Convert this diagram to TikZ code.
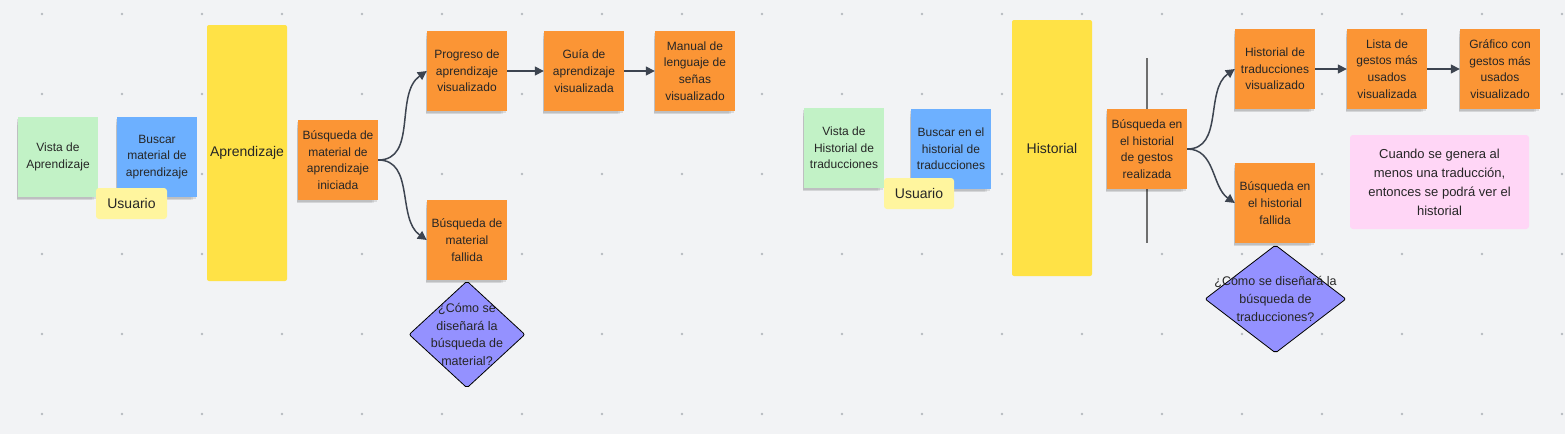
\documentclass[tikz,border=0pt]{standalone}
\usepackage{fontspec}
\setmainfont{Liberation Sans}
\usetikzlibrary{arrows.meta,shapes.geometric,shadows}
\definecolor{bg}{HTML}{F2F3F5}
\definecolor{dotc}{HTML}{B6BAC0}
\definecolor{cgreen}{HTML}{C2F2C6}
\definecolor{cblue}{HTML}{6DB0FF}
\definecolor{cyellow}{HTML}{FFE246}
\definecolor{cuser}{HTML}{FFF59E}
\definecolor{corange}{HTML}{FB9535}
\definecolor{cpink}{HTML}{FFD6F6}
\definecolor{cdiam}{HTML}{9491FF}
\definecolor{conn}{HTML}{3D4450}
\definecolor{vline}{HTML}{6E6E6E}
\definecolor{txt}{HTML}{262626}
\begin{document}
\begin{tikzpicture}[x=1pt,y=-1pt,
  notesh/.style={drop shadow={shadow xshift=-1.5pt,shadow yshift=-2pt,opacity=0.10,fill=black},
                 drop shadow={shadow xshift=-2.5pt,shadow yshift=-4pt,opacity=0.07,fill=black,shadow scale=0.97},
                 drop shadow={shadow xshift=-3.5pt,shadow yshift=-6pt,opacity=0.05,fill=black,shadow scale=0.94}},
  note/.style={notesh,fill=#1,minimum width=80pt,minimum height=80pt,inner sep=0pt,align=center,
               text=txt,font=\fontsize{12}{16.7}\selectfont},
  bignote/.style={fill=cyellow,rounded corners=2pt,minimum width=80pt,minimum height=256pt,inner sep=0pt,
               text=txt,font=\fontsize{14}{17}\selectfont},
  usernote/.style={fill=cuser,rounded corners=3pt,minimum height=31pt,inner sep=0pt,
               text=txt,font=\fontsize{14}{17}\selectfont},
  diam/.style={diamond,draw=black,line width=0.8pt,fill=cdiam,rounded corners=2pt,inner sep=0pt},
  dtext/.style={align=center,text=txt,font=\fontsize{12.5}{17.6}\selectfont},
  conn/.style={draw=conn,line width=1.5pt,-{Triangle[length=9pt,width=9pt]}}
]
\fill[bg] (0,0) rectangle (1565,434);
\useasboundingbox (0,0) rectangle (1565,434);
\foreach \i in {0,...,19}{\foreach \j in {0,...,5}{\fill[dotc] (42+80*\i,14+80*\j) circle (1.3pt);}}

% ---------- left part ----------
\node[note=cgreen] (vista) at (58,157) {Vista de\\Aprendizaje};
\node[note=cblue] (buscar) at (157,157) {Buscar\\material de\\aprendizaje};
\node[usernote,minimum width=71pt] (user) at (131.5,203.5) {Usuario};
\node[bignote] (apr) at (247,153) {Aprendizaje};
\node[note=corange] (busq) at (338,160) {Búsqueda de\\material de\\aprendizaje\\iniciada};
\node[note=corange] (prog) at (467,71) {Progreso de\\aprendizaje\\visualizado};
\node[note=corange] (guia) at (584,71) {Guía de\\aprendizaje\\visualizada};
\node[note=corange] (manual) at (695,71) {Manual de\\lenguaje de\\señas\\visualizado};
\node[note=corange] (fall) at (467,240) {Búsqueda de\\material\\fallida};
\node[diam,minimum width=116pt,minimum height=107pt] (d1) at (467,334.5) {};
\node[dtext] (d1t) at (d1.center) {¿Cómo se\\diseñará la\\búsqueda de\\material?};

\draw[conn] (busq.east) to[out=0,in=215] (prog.west);
\draw[conn] (busq.east) to[out=0,in=145] (fall.west);
\draw[conn] (prog.east) -- (guia.west);
\draw[conn] (guia.east) -- (manual.west);

% ---------- right part ----------
\node[note=cgreen] (vista2) at (844,148) {Vista de\\Historial de\\traducciones};
\node[note=cblue] (buscar2) at (951,149) {Buscar en el\\historial de\\traducciones};
\node[usernote,minimum width=70pt] (user2) at (919,193.5) {Usuario};
\node[bignote] (hist) at (1052,148) {Historial};
\coordinate (vtop) at (1147,58);
\coordinate (vbot) at (1147,243);
\draw[vline,line width=2pt] (vtop) -- (vbot);
\node[note=corange] (busq2) at (1147,149) {Búsqueda en\\el historial\\de gestos\\realizada};
\node[note=corange] (htrad) at (1275,69) {Historial de\\traducciones\\visualizado};
\node[note=corange] (lista) at (1387,69) {Lista de\\gestos más\\usados\\visualizada};
\node[note=corange] (graf) at (1500,69) {Gráfico con\\gestos más\\usados\\visualizado};
\node[note=corange] (fall2) at (1275,203) {Búsqueda en\\el historial\\fallida};
\node[fill=cpink,rounded corners=3pt,minimum width=179pt,minimum height=94pt,inner sep=0pt,align=center,
      text=txt,font=\fontsize{13}{19}\selectfont] (pink) at (1439.5,182)
      {Cuando se genera al\\menos una traducción,\\entonces se podrá ver el\\historial};
\node[diam,minimum width=141pt,minimum height=108pt] (d2) at (1275.5,299) {};
\node[dtext] (d2t) at (d2.center) {¿Cómo se diseñará la\\búsqueda de\\traducciones?};

\draw[conn] (busq2.east) to[out=0,in=215] (htrad.west);
\draw[conn] (busq2.east) to[out=0,in=145] (fall2.west);
\draw[conn] (htrad.east) -- (lista.west);
\draw[conn] (lista.east) -- (graf.west);
\end{tikzpicture}
\end{document}
